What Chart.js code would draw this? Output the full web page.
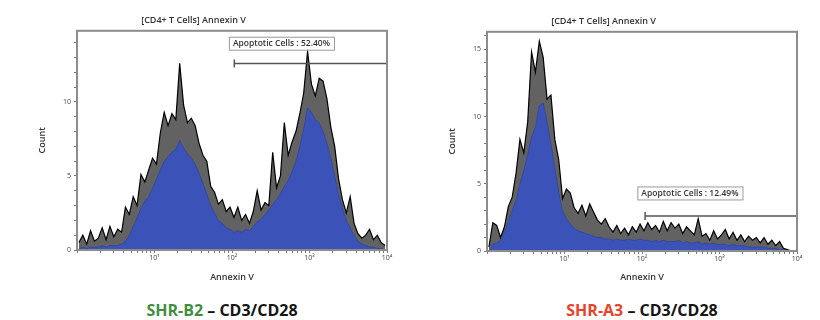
<!DOCTYPE html>
<html><head><meta charset="utf-8">
<script src="https://cdn.jsdelivr.net/npm/chart.js@4.4.1/dist/chart.umd.min.js"></script>
<style>
body{margin:0;background:#fff;width:820px;height:320px;overflow:hidden;position:relative;font-family:"Open Sans",sans-serif}
canvas{position:absolute;top:0}
#c1{left:0}#c2{left:410px}
.lab{position:absolute;top:299px;width:410px;text-align:center;font:700 16px "Open Sans",sans-serif;color:#151515;line-height:22px}
</style></head><body>
<canvas id="c1" width="410" height="290"></canvas>
<canvas id="c2" width="410" height="290"></canvas>
<div class="lab" style="left:17px"><span style="color:#3f8f3f">SHR-B2</span> – CD3/CD28</div>
<div class="lab" style="left:437px"><span style="color:#e8432b">SHR-A3</span> – CD3/CD28</div>
<script>
const chartTitle = '[CD4+ T Cells] Annexin V';
const xTickLabels = ['', '10¹', '10²', '10³', '10⁴'];
const binWidth = 0.05; // decades per histogram bin

const b2Outline = [0.5,1.0,0.4,1.3,0.6,0.8,1.5,0.7,1.6,0.9,
 1.4,1.2,2.9,2.4,3.6,3.0,5.1,4.6,5.4,6.2,
 5.8,7.9,9.3,8.4,9.2,8.8,12.6,9.8,8.6,8.9,
 8.4,7.2,6.4,6.0,4.3,3.9,3.1,3.4,2.6,2.9,
 2.2,2.9,2.0,2.4,1.8,2.6,4.0,2.7,3.2,3.0,
 6.6,4.2,5.0,8.6,6.4,7.3,8.0,9.2,10.6,13.4,
 11.2,10.4,11.6,11.4,10.2,8.3,7.0,4.8,3.4,2.5,
 3.6,1.8,1.1,0.8,1.0,1.4,0.7,1.0,0.5,0.3];
const b2Fill = [0.1,0.2,0.1,0.2,0.2,0.2,0.3,0.2,0.3,0.3,
 0.3,0.4,0.6,1.0,1.6,2.2,2.8,3.3,3.6,4.2,
 4.8,5.4,6.0,6.3,6.6,6.8,7.4,6.9,6.5,6.2,
 5.8,5.2,4.5,3.8,3.0,2.5,2.0,1.8,1.5,1.4,
 1.2,1.3,1.2,1.4,1.3,1.6,1.9,2.1,2.4,2.7,
 3.1,3.4,3.8,4.3,4.7,5.3,6.0,7.0,8.2,9.6,
 9.3,8.8,8.6,8.0,7.2,6.2,5.0,3.8,2.8,2.0,
 1.5,1.0,0.6,0.4,0.3,0.2,0.2,0.1,0.1,0.0];
const a3Outline = [0.3,2.1,1.9,1.0,1.8,3.3,4.0,5.8,8.3,7.3,
 9.6,14.8,13.3,15.6,14.4,11.3,11.6,8.3,6.8,3.9,
 4.6,4.3,3.2,2.8,3.4,2.6,3.5,2.9,2.3,2.0,
 2.4,1.8,1.4,1.9,1.3,1.7,1.2,1.8,1.4,2.0,
 1.5,2.1,1.6,1.9,1.4,2.2,1.5,2.1,1.7,2.0,
 1.3,1.8,1.5,1.2,2.4,1.1,1.3,0.8,1.5,0.9,
 1.2,1.6,0.9,1.4,0.8,1.2,0.7,1.1,0.8,1.0,
 0.6,1.0,0.5,0.8,0.4,0.7,0.2,0.1,0.0,0.0];
const a3Fill = [0,0.5,0.6,0.8,1.4,2.2,3.0,3.8,5.0,6.0,
 7.2,8.5,9.2,10.8,11.0,9.6,8.0,6.2,4.4,3.0,
 2.4,2.0,1.7,1.5,1.4,1.3,1.2,1.1,1.0,1.0,
 0.9,0.9,0.8,0.9,0.8,0.8,0.9,0.8,0.8,0.9,
 0.8,0.8,0.7,0.8,0.7,0.8,0.7,0.7,0.7,0.8,
 0.6,0.7,0.6,0.6,0.7,0.5,0.6,0.5,0.6,0.5,
 0.5,0.5,0.4,0.5,0.4,0.4,0.4,0.3,0.3,0.3,
 0.3,0.3,0.2,0.2,0.2,0.1,0.1,0,0,0];
const b2Gate = {start: 2.03, end: 4, level: 12.6, label: 'Apoptotic Cells : 52.40%'};
const a3Gate = {start: 2.04, end: 4, level: 2.6, label: 'Apoptotic Cells : 12.49%'};

const FAM = '"Open Sans", sans-serif';

const framePlugin = {
  id: 'frame',
  afterDatasetsDraw(chart, args, opts) {
    const {ctx, chartArea: a, scales: {x, y}} = chart;
    ctx.save();
    ctx.strokeStyle = '#8c8c8c'; ctx.lineWidth = 2;
    ctx.strokeRect(a.left, a.top, a.right - a.left, a.bottom - a.top);
    if (opts.box) {
      const b = opts.box;
      const px = x.getPixelForValue(b.x), py = y.getPixelForValue(b.y);
      ctx.font = '600 8.5px ' + FAM;
      const w = ctx.measureText(b.text).width + 8;
      ctx.fillStyle = '#fff';
      ctx.fillRect(px, py, w, 13);
      ctx.strokeStyle = '#9a9a9a'; ctx.lineWidth = 1;
      ctx.strokeRect(px + 0.5, py + 0.5, w, 13);
      ctx.fillStyle = '#333'; ctx.textBaseline = 'middle';
      ctx.fillText(b.text, px + 4, py + 7);
    }
    ctx.restore();
  }
};

function makeChart(id, outline, fill, gate, yMax, titlePadTop, xH, box) {
  const toPts = arr => arr.map((v, i) => ({x: (i + 0.5) * binWidth, y: v}));
  return new Chart(document.getElementById(id), {
    type: 'line',
    data: {datasets: [
      {label: 'gate', data: [{x: gate.start, y: gate.level}, {x: gate.end, y: gate.level}],
       borderColor: '#555', borderWidth: 1.5, pointStyle: 'line', rotation: 90,
       pointRadius: [4, 0], pointBorderColor: '#555', pointBorderWidth: 1.5, fill: false, order: 0},
      {label: 'fill', data: toPts(fill), borderColor: '#2c3f9c', borderWidth: 0.6,
       backgroundColor: '#3b52b8', fill: 'origin', pointRadius: 0, order: 1},
      {label: 'outline', data: toPts(outline), borderColor: '#000', borderWidth: 1.2,
       backgroundColor: 'rgba(38,38,38,0.72)', fill: 'origin', pointRadius: 0, order: 2}
    ]},
    options: {
      responsive: false, animation: false,
      layout: {padding: {top: 0, right: 23, bottom: 0, left: 0}},
      plugins: {
        legend: {display: false}, tooltip: {enabled: false},
        title: {display: true, text: chartTitle, color: '#333',
                font: {size: 9, weight: '600', family: FAM}, padding: {top: titlePadTop, bottom: 5}},
        frame: {box: {x: box.x, y: box.y, text: gate.label}}
      },
      scales: {
        x: {type: 'linear', min: 0, max: 4,
          afterBuildTicks(s) { const t = []; for (let d = 0; d < 4; d++) for (let k = 1; k < 10; k++) t.push({value: d + Math.log10(k)}); t.push({value: 4}); s.ticks = t; },
          afterFit(s) { s.height = xH; },
          ticks: {autoSkip: false, maxRotation: 0, font: {size: 7, family: FAM}, color: '#444', padding: 1,
            callback: v => { const r = Math.round(v); return (Math.abs(v - r) < 1e-6 && r > 0) ? xTickLabels[r] : ''; }},
          grid: {drawOnChartArea: false, drawTicks: true, tickLength: 3, color: '#777'},
          border: {display: false},
          title: {display: true, text: 'Annexin V', color: '#333', font: {size: 9, weight: '600', family: FAM}, padding: {top: 0, bottom: 7}}
        },
        y: {min: 0, max: yMax,
          afterBuildTicks(s) { const t = []; for (let v = 0; v <= Math.floor(yMax); v++) t.push({value: v}); s.ticks = t; },
          afterFit(s) { s.width = 77; },
          ticks: {autoSkip: false, font: {size: 7, family: FAM}, color: '#444', padding: 3,
            callback: v => (v % 5 === 0 ? String(v) : '')},
          grid: {drawOnChartArea: false, drawTicks: true, tickLength: 3, color: '#777'},
          border: {display: false},
          title: {display: true, text: 'Count', color: '#333', font: {size: 9, weight: '600', family: FAM}, padding: {top: 37, bottom: 0}}
        }
      }
    },
    plugins: [framePlugin]
  });
}

makeChart('c1', b2Outline, b2Fill, b2Gate, 14.8, 15, 40, {x: 1.96, y: 14.4});
makeChart('c2', a3Outline, a3Fill, a3Gate, 16.3, 16, 39, {x: 1.94, y: 4.8});
</script>
</body></html>
